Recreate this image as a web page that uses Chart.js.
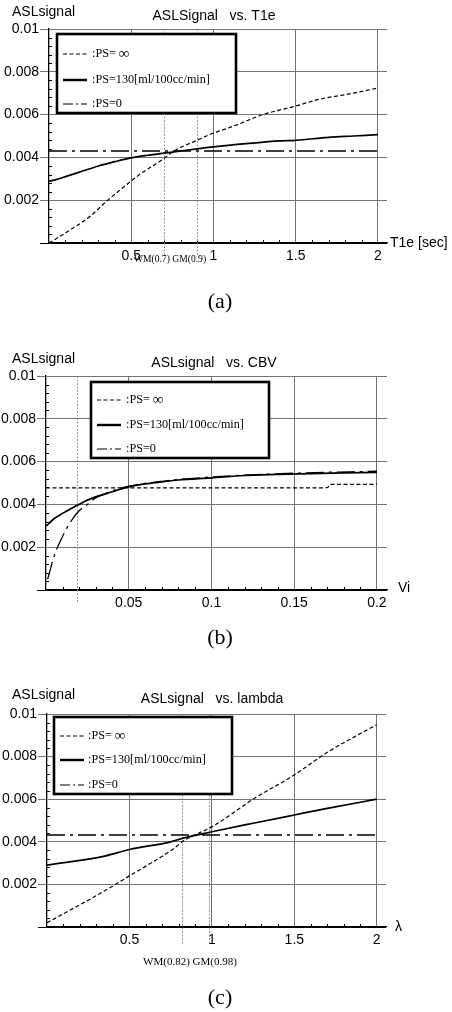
<!DOCTYPE html>
<html>
<head>
<meta charset="utf-8">
<script src="https://cdn.jsdelivr.net/npm/chart.js@4.4.1/dist/chart.umd.min.js"></script>
<style>
  body { margin: 0; background: #fff; }
  canvas { position: absolute; left: 0; }
</style>
</head>
<body>
<canvas id="chartA" width="452" height="320" style="top:0"></canvas>
<canvas id="chartB" width="452" height="330" style="top:320px"></canvas>
<canvas id="chartC" width="452" height="362" style="top:650px"></canvas>
<script>
// (a) signal vs T1e
const t1eInfX = [0, 0.1, 0.25, 0.35, 0.5, 0.55, 0.7, 0.76, 0.9, 1.0, 1.1, 1.2, 1.3, 1.5, 1.65, 1.8, 2.0];
const t1eInfY = [0.0000, 0.00047, 0.00125, 0.00195, 0.0029, 0.0032, 0.00395, 0.0043, 0.0048, 0.00514, 0.0054, 0.0057, 0.0060, 0.0064, 0.00673, 0.00693, 0.00724];
const t1eMidX = [0, 0.05, 0.1, 0.2, 0.3, 0.4, 0.5, 0.6, 0.7, 0.8, 0.9, 1.0, 1.2, 1.4, 1.5, 1.7, 1.85, 2.0];
const t1eMidY = [0.00288, 0.00298, 0.0031, 0.00335, 0.0036, 0.0038, 0.00398, 0.0041, 0.0042, 0.0043, 0.0044, 0.00449, 0.00464, 0.00477, 0.0048, 0.00494, 0.005, 0.00506];
const t1eZeroX = [0, 2];
const t1eZeroY = [0.0043, 0.0043];
const t1eTicks = [0.5, 1, 1.5, 2];
const t1eMarks = [0.7, 0.9];

// (b) signal vs CBV
const cbvInfX = [0, 0.05, 0.1, 0.15, 0.17, 0.172, 0.2];
const cbvInfY = [0.00477, 0.00477, 0.00477, 0.00477, 0.00478, 0.00494, 0.00494];
const cbvMidX = [0, 0.005, 0.01, 0.015, 0.02, 0.025, 0.03, 0.04, 0.05, 0.06, 0.07, 0.08, 0.1, 0.12, 0.14, 0.16, 0.18, 0.2];
const cbvMidY = [0.00298, 0.00334, 0.00358, 0.0038, 0.004, 0.0042, 0.00435, 0.00459, 0.00482, 0.00496, 0.00505, 0.00514, 0.00524, 0.00535, 0.0054, 0.00544, 0.00547, 0.0055];
const cbvZeroX = [0.001, 0.005, 0.01, 0.015, 0.02, 0.025, 0.03, 0.04, 0.05, 0.07, 0.1, 0.15, 0.2];
const cbvZeroY = [0.0005, 0.0016, 0.0025, 0.0032, 0.0037, 0.0040, 0.0043, 0.00463, 0.00485, 0.00508, 0.00528, 0.00546, 0.00555];
const cbvTicks = [0.05, 0.1, 0.15, 0.2];
const cbvMarks = [0.019];

// (c) signal vs lambda
const lamInfX = [0, 0.25, 0.35, 0.5, 0.75, 0.84, 1.0, 1.1, 1.25, 1.5, 1.7, 2.0];
const lamInfY = [0.0002, 0.00126, 0.0017, 0.0024, 0.00358, 0.0041, 0.0047, 0.0052, 0.006, 0.00714, 0.0082, 0.0095];
const lamMidX = [0, 0.35, 0.5, 0.75, 0.82, 1.0, 1.25, 1.5, 1.7, 2.0];
const lamMidY = [0.0029, 0.00333, 0.00364, 0.004, 0.00416, 0.00447, 0.00487, 0.00526, 0.00557, 0.006];
const lamZeroX = [0, 2];
const lamZeroY = [0.00432, 0.00432];
const lamTicks = [0.5, 1, 1.5, 2];
const lamMarks = [0.82, 0.98];

const yTicks = [0.002, 0.004, 0.006, 0.008, 0.01];
const seriesNames = [':PS= ', ':PS=130[ml/100cc/min]', ':PS=0'];

Chart.defaults.font.family = '"Liberation Sans", Arial, sans-serif';
Chart.defaults.font.size = 14;
Chart.defaults.color = '#000';

const SERIF = '"Liberation Serif", "Times New Roman", serif';
const GRID = '#727272';
const STYLES = [
  { borderDash: [4, 2.5], borderWidth: 1.2 },
  { borderDash: [], borderWidth: 1.7 },
  { borderDash: [18, 5, 3, 5], borderWidth: 1.3 }
];

function points(xs, ys) {
  return xs.map((x, i) => ({ x, y: ys[i] }));
}

// axis decorations, marker lines, legend box and all free text
function makeDecor(p) {
  return {
    id: 'decor',
    beforeDatasetsDraw(chart) {
      const { ctx, chartArea: a, scales: { x, y } } = chart;
      ctx.save();
      ctx.strokeStyle = '#000';
      ctx.lineWidth = 1;
      ctx.beginPath();
      const x0 = x.getPixelForValue(0);
      for (let i = 1; i < 25; i++) {
        if (i % 5 === 0) continue;
        const py = Math.round(y.getPixelForValue(i * 0.0004)) + 0.5;
        ctx.moveTo(x0, py);
        ctx.lineTo(x0 + 3, py);
      }
      for (let i = 1; i < 20; i++) {
        if (i % 5 === 0) continue;
        const px = Math.round(x.getPixelForValue(i * p.xMinor)) + 0.5;
        ctx.moveTo(px, a.bottom);
        ctx.lineTo(px, a.bottom - 3);
      }
      ctx.stroke();

      ctx.strokeStyle = '#8a8a8a';
      ctx.lineWidth = 0.9;
      ctx.setLineDash([2, 1.5]);
      ctx.beginPath();
      p.marks.forEach(v => {
        const px = Math.round(x.getPixelForValue(v)) + 0.5;
        ctx.moveTo(px, a.top);
        ctx.lineTo(px, a.bottom + p.markDrop);
      });
      ctx.stroke();
      ctx.restore();
    },
    afterDatasetsDraw(chart) {
      const { ctx } = chart;
      ctx.save();

      // legend
      const [lx, ly, lw, lh] = p.legend;
      ctx.fillStyle = '#fff';
      ctx.fillRect(lx, ly, lw, lh);
      ctx.strokeStyle = '#000';
      ctx.lineWidth = 2.6;
      ctx.strokeRect(lx, ly, lw, lh);
      ctx.textBaseline = 'middle';
      ctx.textAlign = 'left';
      seriesNames.forEach((name, i) => {
        const ry = ly + p.rows[i];
        ctx.beginPath();
        ctx.lineWidth = i === 1 ? 2.4 : 1.2;
        ctx.setLineDash(i === 0 ? [4, 2.5] : i === 2 ? [10, 3, 2, 3] : []);
        ctx.moveTo(lx + 6, ry);
        ctx.lineTo(lx + 30, ry);
        ctx.stroke();
        ctx.setLineDash([]);
        ctx.fillStyle = '#000';
        ctx.font = '12.2px ' + SERIF;
        ctx.fillText(name, lx + p.textDx, ry);
        if (i === 0) {
          const w = ctx.measureText(name).width;
          ctx.font = '15px ' + SERIF;
          ctx.fillText('\u221E', lx + p.textDx + w, ry + 0.5);
        }
      });

      ctx.fillStyle = '#000';
      ctx.font = '14px "Liberation Sans", Arial, sans-serif';
      ctx.textAlign = 'left';
      ctx.fillText('ASLsignal', 12, p.yLabelY);
      ctx.fillText(p.xLabel, p.xLabelX, p.xLabelY);
      ctx.textAlign = 'center';
      ctx.fillText(p.title, p.titleX, p.titleY);

      if (p.markLabel) {
        ctx.font = p.markFont + 'px ' + SERIF;
        ctx.fillText(p.markLabel, p.markLabelX, p.markLabelY);
      }
      ctx.font = '22px ' + SERIF;
      ctx.fillText(p.caption, 220, p.captionY);
      ctx.restore();
    }
  };
}

function makePanel(id, sets, p) {
  new Chart(document.getElementById(id), {
    type: 'line',
    data: {
      datasets: sets.map(([xs, ys], i) => ({
        label: seriesNames[i],
        data: points(xs, ys),
        borderColor: '#000',
        pointRadius: 0,
        fill: false,
        cubicInterpolationMode: 'monotone',
        ...STYLES[i]
      }))
    },
    options: {
      responsive: false,
      animation: false,
      events: [],
      layout: { padding: { top: p.top, right: p.right, bottom: p.bottom, left: 0 } },
      plugins: { legend: { display: false }, tooltip: { enabled: false } },
      scales: {
        x: {
          type: 'linear',
          min: 0,
          max: p.xMax,
          afterBuildTicks: s => { s.ticks = [0, ...p.xTicks].map(value => ({ value })); },
          afterFit: s => { s.height = 30; },
          grid: {
            color: c => (c.tick && c.tick.value === 0) ? 'rgba(0,0,0,0)' : GRID,
            drawTicks: false
          },
          border: { color: '#000', width: 1.3 },
          ticks: {
            padding: 5,
            maxRotation: 0,
            autoSkip: false,
            callback: v => v === 0 ? '' : String(v)
          }
        },
        y: {
          min: 0,
          max: 0.01,
          afterBuildTicks: s => { s.ticks = [0, ...yTicks].map(value => ({ value })); },
          afterFit: s => { s.width = p.left; },
          grid: {
            color: c => (c.tick && c.tick.value === 0) ? '#000' : GRID,
            tickLength: 9
          },
          border: { color: '#000', width: 1.3 },
          ticks: {
            padding: 1,
            autoSkip: false,
            callback: v => v === 0 ? '' : String(+v.toFixed(3))
          }
        }
      }
    },
    plugins: [makeDecor(p)]
  });
}

makePanel('chartA', [[t1eInfX, t1eInfY], [t1eMidX, t1eMidY], [t1eZeroX, t1eZeroY]], {
  top: 29, bottom: 47, right: 65, left: 49, xMax: 2.055, xTicks: t1eTicks, xMinor: 0.1,
  title: 'ASLSignal   vs. T1e', titleX: 214, titleY: 16, yLabelY: 12,
  xLabel: 'T1e [sec]', xLabelX: 390, xLabelY: 243,
  marks: t1eMarks, markDrop: 12, markLabel: 'WM(0.7) GM(0.9)', markFont: 9.6, markLabelX: 170, markLabelY: 259,
  legend: [57, 34, 179, 79], rows: [20, 46, 70], textDx: 35,
  caption: '(a)', captionY: 302
});

makePanel('chartB', [[cbvInfX, cbvInfY], [cbvMidX, cbvMidY], [cbvZeroX, cbvZeroY]], {
  top: 56, bottom: 30, right: 65, left: 46, xMax: 0.2061, xTicks: cbvTicks, xMinor: 0.01,
  title: 'ASLsignal   vs. CBV', titleX: 214, titleY: 43, yLabelY: 39,
  xLabel: 'Vi', xLabelX: 398, xLabelY: 268,
  marks: cbvMarks, markDrop: 12, markLabel: '', markFont: 10, markLabelX: 0, markLabelY: 0,
  legend: [91, 62, 178, 76], rows: [18, 43, 67], textDx: 35,
  caption: '(b)', captionY: 318
});

makePanel('chartC', [[lamInfX, lamInfY], [lamMidX, lamMidY], [lamZeroX, lamZeroY]], {
  top: 64, bottom: 55, right: 66, left: 47, xMax: 2.056, xTicks: lamTicks, xMinor: 0.1,
  title: 'ASLsignal   vs. lambda', titleX: 212, titleY: 49, yLabelY: 45,
  xLabel: '\u03BB', xLabelX: 395, xLabelY: 277,
  marks: lamMarks, markDrop: 18, markLabel: 'WM(0.82) GM(0.98)', markFont: 11, markLabelX: 190, markLabelY: 312,
  legend: [54, 67, 178, 77], rows: [19, 43, 68], textDx: 34,
  caption: '(c)', captionY: 348
});
</script>
</body>
</html>
